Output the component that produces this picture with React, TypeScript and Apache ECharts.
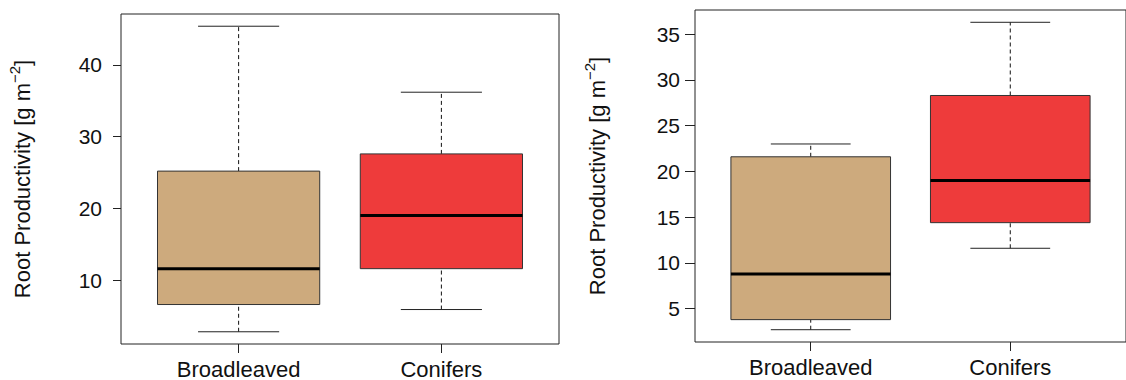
import React, { useEffect, useRef } from "react";
import * as echarts from "echarts";

const categories = ["Broadleaved", "Conifers"];
// [min, q1, median, q3, max]
const leftStats = [
  [2.8, 6.6, 11.6, 25.2, 45.4],
  [5.9, 11.6, 19.0, 27.6, 36.2],
];
const rightStats = [
  [2.7, 3.8, 8.8, 21.6, 23.0],
  [11.6, 14.4, 19.0, 28.3, 36.3],
];
const boxColors = ["#CDAA7D", "#EE3B3B"];
const leftTicks = [10, 20, 30, 40];
const rightTicks = [5, 10, 15, 20, 25, 30, 35];
const yTitle = "Root Productivity [g m";

const FONT = "'Liberation Sans', Arial, sans-serif";

function extent(stats: number[][]) {
  const all = stats.flat();
  const lo = Math.min(...all);
  const hi = Math.max(...all);
  const pad = (hi - lo) * 0.04;
  return [lo - pad, hi + pad];
}

function renderBox(params: any, api: any) {
  const x = api.value(0);
  const lo = api.value(1);
  const q1 = api.value(2);
  const med = api.value(3);
  const q3 = api.value(4);
  const hi = api.value(5);
  const c = (a: number, b: number) => api.coord([a, b]);
  const pLo = c(x, lo), pQ1 = c(x, q1), pQ3 = c(x, q3), pHi = c(x, hi);
  const capL = c(x - 0.2, lo), capR = c(x + 0.2, lo);
  const capLH = c(x - 0.2, hi), capRH = c(x + 0.2, hi);
  const bL = c(x - 0.4, q3), bR = c(x + 0.4, q1);
  const mL = c(x - 0.4, med), mR = c(x + 0.4, med);
  const dash = { stroke: "#111", lineWidth: 1, lineDash: [4, 3] };
  const solid = { stroke: "#222", lineWidth: 1 };
  return {
    type: "group",
    children: [
      { type: "line", shape: { x1: pLo[0], y1: pLo[1], x2: pQ1[0], y2: pQ1[1] }, style: dash },
      { type: "line", shape: { x1: pQ3[0], y1: pQ3[1], x2: pHi[0], y2: pHi[1] }, style: dash },
      { type: "line", shape: { x1: capL[0], y1: capL[1], x2: capR[0], y2: capR[1] }, style: solid },
      { type: "line", shape: { x1: capLH[0], y1: capLH[1], x2: capRH[0], y2: capRH[1] }, style: solid },
      {
        type: "rect",
        shape: { x: bL[0], y: bL[1], width: bR[0] - bL[0], height: bR[1] - bL[1] },
        style: { fill: boxColors[params.dataIndex], stroke: "#333", lineWidth: 1 },
      },
      { type: "line", shape: { x1: mL[0], y1: mL[1], x2: mR[0], y2: mR[1] }, style: { stroke: "#000", lineWidth: 3 } },
    ],
  };
}

function makeAxes(gridIndex: number, stats: number[][], ticks: number[], tickLen: number, labelMargin: number) {
  const [ymin, ymax] = extent(stats);
  const xAxis = {
    type: "value",
    gridIndex,
    min: 0.42,
    max: 2.58,
    axisLine: { show: false },
    splitLine: { show: false },
    axisTick: { show: true, customValues: [1, 2], length: 9, lineStyle: { color: "#222" } },
    axisLabel: {
      customValues: [1, 2],
      formatter: (v: number) => categories[Math.round(v) - 1],
      fontSize: 22,
      fontFamily: FONT,
      color: "#111",
      margin: 14,
    },
  };
  const yAxis = {
    type: "value",
    gridIndex,
    min: ymin,
    max: ymax,
    axisLine: { show: false },
    splitLine: { show: false },
    axisTick: { show: true, customValues: ticks, length: tickLen, lineStyle: { color: "#222" } },
    axisLabel: {
      customValues: ticks,
      fontSize: 21,
      fontFamily: FONT,
      color: "#111",
      margin: labelMargin,
    },
  };
  return { xAxis, yAxis };
}

export default function App() {
  const ref = useRef<HTMLDivElement>(null);
  useEffect(() => {
    if (!ref.current) return;
    const chart = echarts.init(ref.current, null, { renderer: "svg" });
    const L = makeAxes(0, leftStats, leftTicks, 8, 19);
    const R = makeAxes(1, rightStats, rightTicks, 10, 15);
    const titleRich = {
      a: { fontSize: 22, fontFamily: FONT, fill: "#111" },
      s: { fontSize: 15, fontFamily: FONT, fill: "#111", padding: [0, 0, 15, 0] },
    };
    const titleText = `{a|${yTitle}}{s|−2}{a|]}`;
    chart.setOption({
      animation: false,
      backgroundColor: "#fff",
      grid: [
        { left: 121, top: 14, width: 438, height: 330, show: true, borderColor: "#222", borderWidth: 1 },
        { left: 695, top: 10, width: 440, height: 332, show: true, borderColor: "#222", borderWidth: 1 },
      ],
      xAxis: [L.xAxis, R.xAxis],
      yAxis: [L.yAxis, R.yAxis],
      series: [
        {
          type: "custom",
          xAxisIndex: 0,
          yAxisIndex: 0,
          renderItem: renderBox,
          encode: { x: 0, y: [1, 2, 3, 4, 5] },
          data: leftStats.map((s, i) => [i + 1, ...s]),
        },
        {
          type: "custom",
          xAxisIndex: 1,
          yAxisIndex: 1,
          renderItem: renderBox,
          encode: { x: 0, y: [1, 2, 3, 4, 5] },
          data: rightStats.map((s, i) => [i + 1, ...s]),
        },
      ],
      graphic: [
        {
          type: "text",
          x: 22,
          y: 179,
          rotation: Math.PI / 2,
          style: { text: titleText, rich: titleRich, align: "center", verticalAlign: "middle" },
        },
        {
          type: "text",
          x: 597,
          y: 176,
          rotation: Math.PI / 2,
          style: { text: titleText, rich: titleRich, align: "center", verticalAlign: "middle" },
        },
      ],
    });
    return () => chart.dispose();
  }, []);
  return (
    <div
      ref={ref}
      style={{ position: "fixed", left: 0, top: 0, width: 1126, height: 380, background: "#fff" }}
    />
  );
}
